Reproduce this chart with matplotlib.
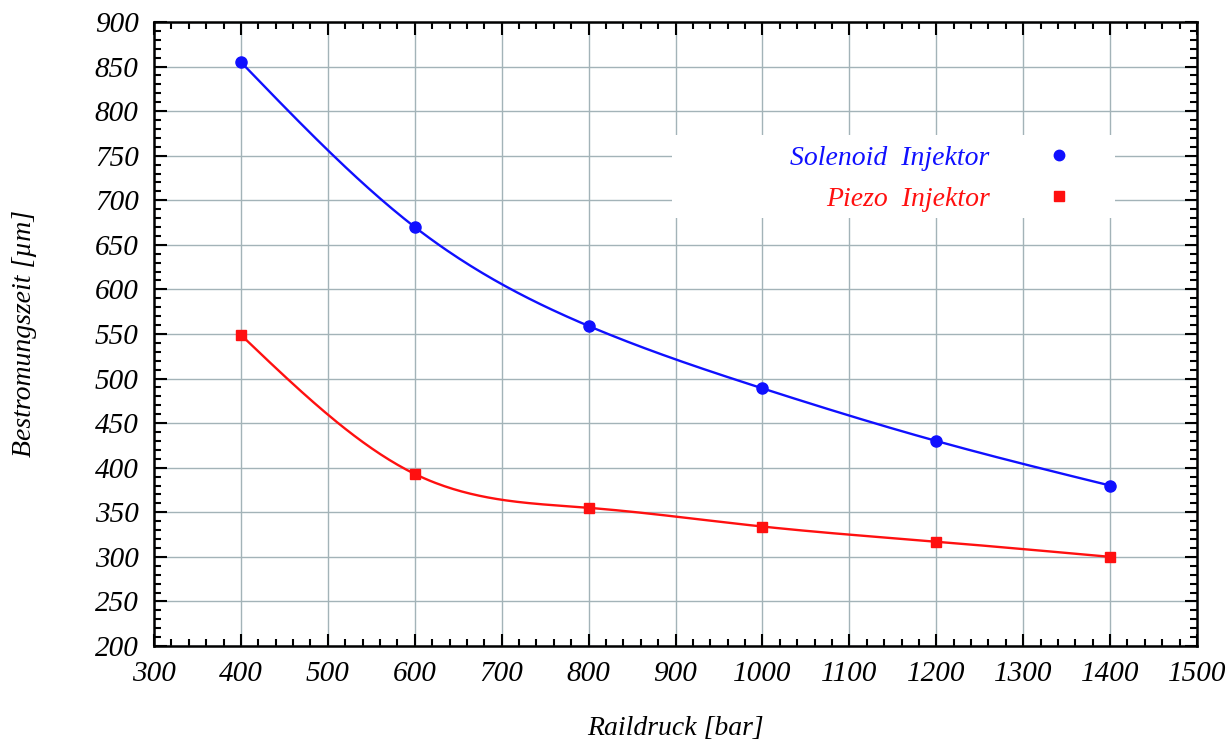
import numpy as np
import matplotlib
matplotlib.use("Agg")
import matplotlib.pyplot as plt
from matplotlib.lines import Line2D
from matplotlib.patches import Rectangle
from matplotlib.ticker import MultipleLocator

# Data
raildruck = [400, 600, 800, 1000, 1200, 1400]
solenoid = [855, 670, 559, 489, 430, 380]
piezo = [549, 393, 355, 334, 317, 300]
labels = ["Solenoid  Injektor", "Piezo  Injektor"]
colors = ["#1010ff", "#ff1010"]
xticks = list(range(300, 1501, 100))
yticks = list(range(200, 901, 50))


def natural_spline(x, y, n=300):
    x = np.asarray(x, float)
    y = np.asarray(y, float)
    k = len(x)
    h = np.diff(x)
    A = np.zeros((k, k))
    b = np.zeros(k)
    A[0, 0] = A[-1, -1] = 1
    for i in range(1, k - 1):
        A[i, i - 1] = h[i - 1]
        A[i, i] = 2 * (h[i - 1] + h[i])
        A[i, i + 1] = h[i]
        b[i] = 3 * ((y[i + 1] - y[i]) / h[i] - (y[i] - y[i - 1]) / h[i - 1])
    c = np.linalg.solve(A, b)
    xs = np.linspace(x[0], x[-1], n)
    ys = np.empty_like(xs)
    for j, xv in enumerate(xs):
        i = min(np.searchsorted(x, xv, side="right") - 1, k - 2)
        d = xv - x[i]
        bi = (y[i + 1] - y[i]) / h[i] - h[i] * (2 * c[i] + c[i + 1]) / 3
        di = (c[i + 1] - c[i]) / (3 * h[i])
        ys[j] = y[i] + bi * d + c[i] * d ** 2 + di * d ** 3
    return xs, ys


plt.rcParams['font.family'] = ['Liberation Serif', 'DejaVu Serif']
plt.rcParams['font.style'] = 'italic'

fig = plt.figure(figsize=(12.31, 7.45), dpi=100)
ax = fig.add_axes([0.1251, 0.1329, 0.8473, 0.8376])

ax.set_xlim(300, 1500)
ax.set_ylim(200, 900)
ax.set_xticks(xticks, [str(v) for v in xticks], fontsize=21, fontstyle='italic')
ax.set_yticks(yticks, [str(v) for v in yticks], fontsize=21, fontstyle='italic')
ax.xaxis.set_minor_locator(MultipleLocator(20))
ax.yaxis.set_minor_locator(MultipleLocator(10))
ax.grid(True, which='major', color='#a3b3b8', linewidth=1.0, zorder=0)
ax.set_axisbelow(True)

ax.tick_params(which='both', direction='in', top=True, right=True, width=1.5, color='black')
ax.tick_params(which='major', length=9)
ax.tick_params(which='minor', length=5)
ax.tick_params(axis='x', pad=11)
ax.tick_params(axis='y', pad=11)
for s in ax.spines.values():
    s.set_linewidth(1.8)

for yv, col in [(solenoid, colors[0]), (piezo, colors[1])]:
    xs, ys = natural_spline(raildruck, yv)
    ax.plot(xs, ys, color=col, linewidth=1.7, zorder=3)
ax.plot(raildruck, solenoid, linestyle='none', marker='o', markersize=8, color=colors[0], zorder=4)
ax.plot(raildruck, piezo, linestyle='none', marker='s', markersize=7.6, color=colors[1], zorder=4)

# legend background
ax.add_patch(Rectangle((0.4967, 0.686), 0.4247, 0.133, transform=ax.transAxes,
                       facecolor='white', edgecolor='none', zorder=2))
handles = [Line2D([], [], linestyle='none', marker='o', markersize=7.5, color=colors[0]),
           Line2D([], [], linestyle='none', marker='s', markersize=7, color=colors[1])]
leg = ax.legend(handles, labels, loc='center right', bbox_to_anchor=(0.881, 0.749),
                frameon=False, markerfirst=False, fontsize=20, handlelength=1.0,
                handletextpad=2.0, labelspacing=0.55, borderpad=0, borderaxespad=0,
                labelcolor=colors)
leg.set_zorder(5)
for t in leg.get_texts():
    t.set_fontstyle('italic')

ax.set_xlabel('Raildruck [bar]', fontsize=20, fontstyle='italic', labelpad=21)
ax.set_ylabel('Bestromungszeit [µm]', fontsize=20, fontstyle='italic', labelpad=42)

fig.savefig('out.png', dpi=100)
